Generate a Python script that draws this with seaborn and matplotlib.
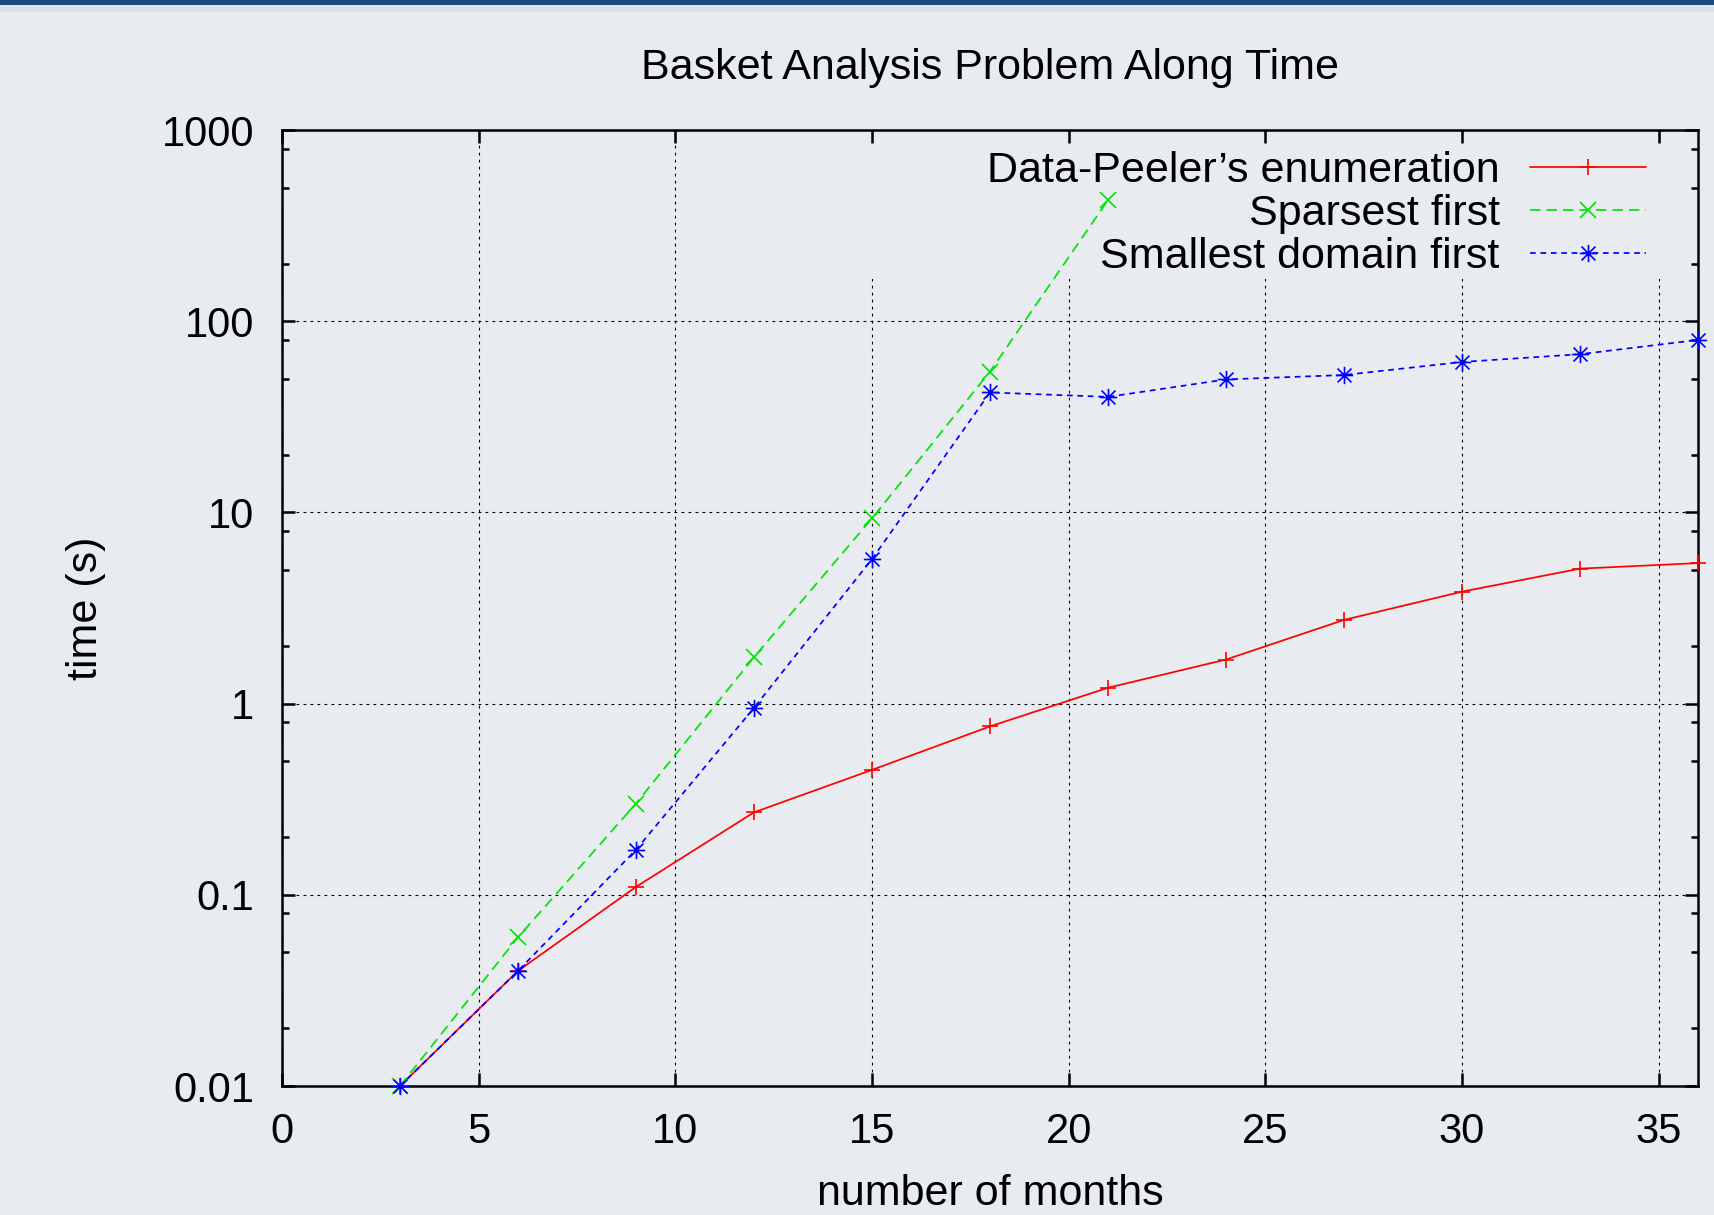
import numpy as np
import pandas as pd
import seaborn as sns
import matplotlib.pyplot as plt
from matplotlib.patches import Rectangle
from matplotlib.path import Path
from matplotlib.ticker import LogLocator, NullFormatter

# --- values ---
months = [3, 6, 9, 12, 15, 18, 21, 24, 27, 30, 33, 36]
peeler_time = [0.01, 0.04, 0.11, 0.27, 0.45, 0.76, 1.21, 1.70, 2.74, 3.85, 5.08, 5.43]
sparsest_months = [3, 6, 9, 12, 15, 18, 21]
sparsest_time = [0.01, 0.06, 0.30, 1.75, 9.3, 54.5, 430]
smallest_time = [0.01, 0.04, 0.172, 0.95, 5.7, 42.4, 40.2, 49.6, 52.3, 61.2, 67.2, 79.8]

series_labels = ["Data-Peeler\u2019s enumeration", "Sparsest first", "Smallest domain first"]
x_ticks = [0, 5, 10, 15, 20, 25, 30, 35]
y_ticks = [0.01, 0.1, 1, 10, 100, 1000]
y_tick_labels = ["0.01", "0.1", "1", "10", "100", "1000"]

# --- style ---
BG = "#e8ecf0"
sns.set_style("ticks")
plt.rcParams["font.family"] = ["Liberation Sans", "DejaVu Sans"]
plt.rcParams["axes.linewidth"] = 1.8
for key in ["text.color", "axes.labelcolor", "xtick.color", "ytick.color", "axes.edgecolor"]:
    plt.rcParams[key] = "black"

# gnuplot-like star: a plus and an x on top of each other
d = 0.8
star = Path([(-1, 0), (1, 0), (0, -1), (0, 1), (-d, -d), (d, d), (-d, d), (d, -d)],
            [Path.MOVETO, Path.LINETO] * 4)

fig = plt.figure(figsize=(17.15, 12.15), dpi=100, facecolor=BG)
ax = fig.add_axes([282 / 1715, 1 - 1086 / 1215, (1698 - 282) / 1715, (1086 - 130) / 1215])
ax.set_facecolor(BG)

# header bar of the page
fig.patches.append(Rectangle((0, 1 - 12 / 1215), 1, 7 / 1215, transform=fig.transFigure,
                             facecolor="#dde1e8", edgecolor="none"))
fig.patches.append(Rectangle((0, 1 - 5 / 1215), 1, 5 / 1215, transform=fig.transFigure,
                             facecolor="#1c4b7c", edgecolor="none"))

common = dict(ax=ax, lw=1.25, mew=1.2, clip_on=False, zorder=3)
sns.lineplot(x=months, y=peeler_time, color="#ff0000", marker="+", ms=11, mec="#ff0000",
             label=series_labels[0], **common)
sns.lineplot(x=sparsest_months, y=sparsest_time, color="#00e400", marker="x", ms=12,
             mec="#00e400", linestyle=(0, (6, 3.5)), label=series_labels[1], **common)
sns.lineplot(x=months, y=smallest_time, color="#0000ff", marker=star, ms=12.5, mec="#0000ff",
             mfc="none", linestyle=(0, (3.3, 2.7)), label=series_labels[2], **common)

ax.set_yscale("log")
ax.set_xlim(0, 36)
ax.set_ylim(0.01, 1000)
ax.set_xticks(x_ticks)
ax.set_xticklabels([str(t) for t in x_ticks])
ax.set_yticks(y_ticks)
ax.set_yticklabels(y_tick_labels)
ax.yaxis.set_minor_locator(LogLocator(base=10, subs=[2, 5, 8]))
ax.yaxis.set_minor_formatter(NullFormatter())
ax.xaxis.set_minor_locator(plt.NullLocator())

ax.tick_params(which="both", direction="in", top=True, right=True, color="black", width=1.8)
ax.tick_params(which="major", length=9.5, labelsize=30, labelcolor="black")
ax.tick_params(axis="x", which="major", pad=18.5)
ax.tick_params(axis="y", which="major", pad=20)
ax.tick_params(which="minor", length=5)

ax.set_axisbelow(True)
ax.grid(True, which="major", color="black", lw=0.8, linestyle=(0, (2.5, 3.8)))

# key area hides the grid behind it (lines are drawn over it)
ax.add_patch(Rectangle((0.35, 0.844), 0.635, 0.141, transform=ax.transAxes,
                       facecolor=BG, edgecolor="none", zorder=1))

leg = ax.legend(loc="upper right", bbox_to_anchor=(0.9633, 0.978), frameon=False,
                fontsize=31, markerfirst=False, handlelength=2.7, handletextpad=0.7,
                labelspacing=0.07, borderpad=0, borderaxespad=0, numpoints=1)

ax.set_title("Basket Analysis Problem Along Time", fontsize=31, pad=36.5)
ax.set_xlabel("number of months", fontsize=31, labelpad=16)
ax.set_ylabel("time (s)", fontsize=31, labelpad=40)

fig.savefig("out.png", dpi=100, facecolor=BG)
